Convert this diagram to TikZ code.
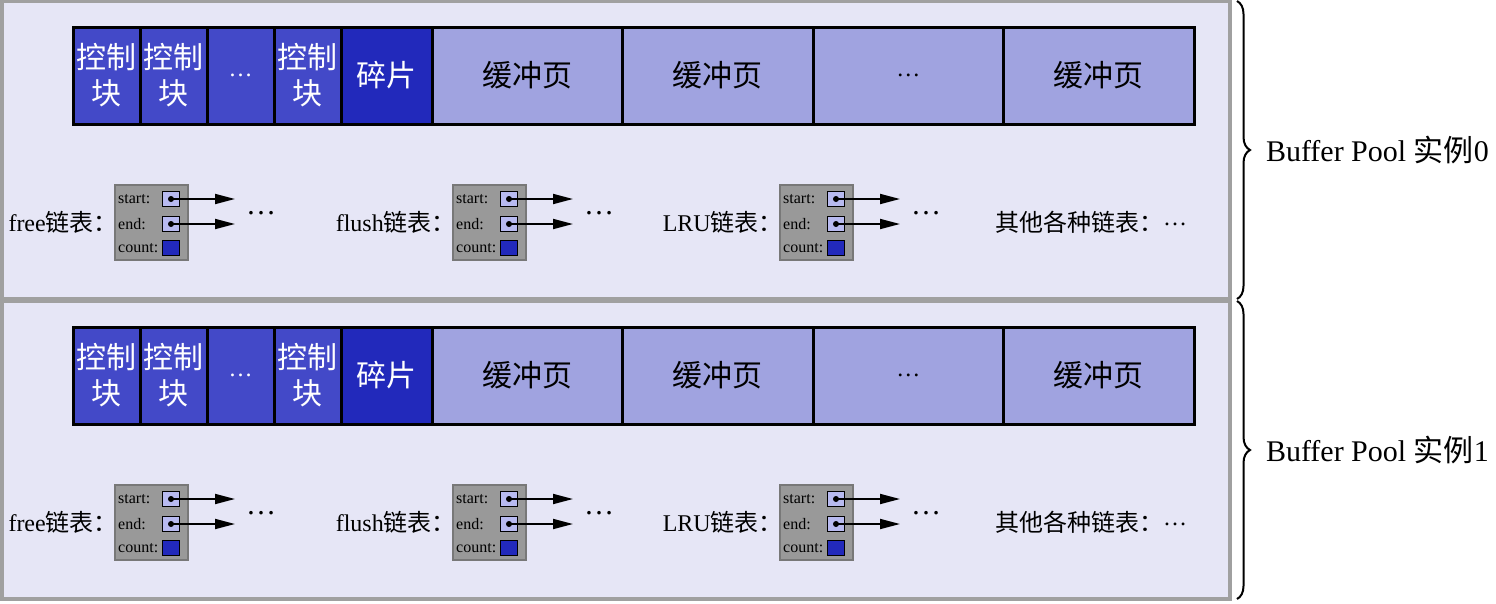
\documentclass[tikz,border=0pt]{standalone}
\usepackage{fontspec}
\setmainfont{Liberation Serif}
\newfontfamily\cjk{Noto Sans CJK SC}
\usetikzlibrary{positioning,arrows.meta,decorations.pathreplacing}
\definecolor{poolbg}{RGB}{230,230,246}
\definecolor{poolline}{RGB}{160,160,160}
\definecolor{ctrlblue}{RGB}{67,73,200}
\definecolor{fragblue}{RGB}{34,41,187}
\definecolor{pageblue}{RGB}{160,163,224}
\definecolor{boxgray}{RGB}{153,153,153}
\definecolor{boxline}{RGB}{120,120,120}
\definecolor{ptrblue}{RGB}{184,186,240}
\begin{document}
\begin{tikzpicture}[x=1pt,y=-1pt,
    pool/.style = {draw=poolline, fill=poolbg, line width=4pt, minimum width=1228pt, minimum height=298pt, inner sep=0, outer sep=0},
    cell/.style = {draw=black, line width=3pt, minimum height=97pt, inner sep=0, outer sep=0, align=center, font=\cjk\fontsize{30}{36}\selectfont},
    ctrl/.style = {cell, fill=ctrlblue, text=white, minimum width=67pt},
    frag/.style = {cell, fill=fragblue, text=white, minimum width=91pt},
    page/.style = {cell, fill=pageblue, minimum width=190.5pt},
    listbox/.style = {draw=boxline, fill=boxgray, line width=1.5pt, minimum width=73pt, minimum height=75pt, inner sep=0, outer sep=0},
    ptr/.style = {draw=black, fill=ptrblue, line width=1.5pt, minimum width=17pt, minimum height=15pt, inner sep=0},
    cnt/.style = {ptr, fill=fragblue},
    field/.style = {font=\fontsize{16}{16}\selectfont, inner sep=0, anchor=west},
    lbl/.style = {font=\fontsize{24}{24}\selectfont, inner sep=0},
    more/.style = {font=\fontsize{30}{30}\selectfont, inner sep=0},
    link/.style = {line width=1.8pt, -{Triangle[length=20pt,width=10pt]}},
    brace/.style = {decorate, decoration={brace, amplitude=13pt}, line width=2pt}]
    \useasboundingbox (0,0) rectangle (1496,603);

    \foreach \i in {0,1}{
        \pgfmathsetmacro\dy{300*\i}
        % instance
        \node[pool, anchor=north west] (pool\i) at (2,1+\dy) {};
        \draw[brace] ([xshift=7pt]pool\i.north east) -- ([xshift=7pt]pool\i.south east)
            node[midway, right=28pt, inner sep=0, font=\fontsize{30}{30}\selectfont] (name\i) {Buffer Pool {\cjk 实例}\i};

        % pages
        \node[ctrl, anchor=north west] (ctrlA\i) at (73,27+\dy) {控制\\块};
        \node[ctrl, right=0pt of ctrlA\i] (ctrlB\i) {控制\\块};
        \node[ctrl, right=0pt of ctrlB\i, font=\fontsize{24}{24}\selectfont] (ctrlC\i) {…};
        \node[ctrl, right=0pt of ctrlC\i] (ctrlD\i) {控制\\块};
        \node[frag, right=0pt of ctrlD\i] (frag\i) {碎片};
        \node[page, right=0pt of frag\i] (pageA\i) {缓冲页};
        \node[page, right=0pt of pageA\i] (pageB\i) {缓冲页};
        \node[page, right=0pt of pageB\i, font=\fontsize{24}{24}\selectfont] (pageC\i) {…};
        \node[page, right=0pt of pageC\i] (pageD\i) {缓冲页};

        % lists
        \foreach \x/\lab/\nm in {115/free/fr, 453/flush/fl, 780/LRU/lr}{
            \node[listbox, anchor=north west] (\nm\i) at (\x,185+\dy) {};
            \node[lbl, left=-3pt of \nm\i] (\nm\i l) {\lab{\cjk 链表：}};
            \node[field] at ([xshift=3pt,yshift=-14pt]\nm\i.north west) {start:};
            \node[field] at ([xshift=3pt,yshift=-39pt]\nm\i.north west) {end:};
            \node[field] at ([xshift=3pt,yshift=-63pt]\nm\i.north west) {count:};
            \node[ptr] (\nm\i s) at ([xshift=56pt,yshift=-14pt]\nm\i.north west) {};
            \node[ptr] (\nm\i e) at ([xshift=56pt,yshift=-39pt]\nm\i.north west) {};
            \node[cnt] (\nm\i c) at ([xshift=56pt,yshift=-63pt]\nm\i.north west) {};
            \coordinate (\nm\i sx) at ([xshift=64pt]\nm\i s.center);
            \coordinate (\nm\i ex) at ([xshift=64pt]\nm\i e.center);
            \fill (\nm\i s) circle (3pt);
            \fill (\nm\i e) circle (3pt);
            \draw[link] (\nm\i s.center) -- (\nm\i sx);
            \draw[link] (\nm\i e.center) -- (\nm\i ex);
            \node[more] (\nm\i m) at ([xshift=26pt,yshift=-14pt]\nm\i sx) {…};
        }
        \node[lbl] (other\i) at (1091,222+\dy) {{\cjk 其他各种链表：}\raisebox{6pt}{…}};
    }
\end{tikzpicture}
\end{document}
